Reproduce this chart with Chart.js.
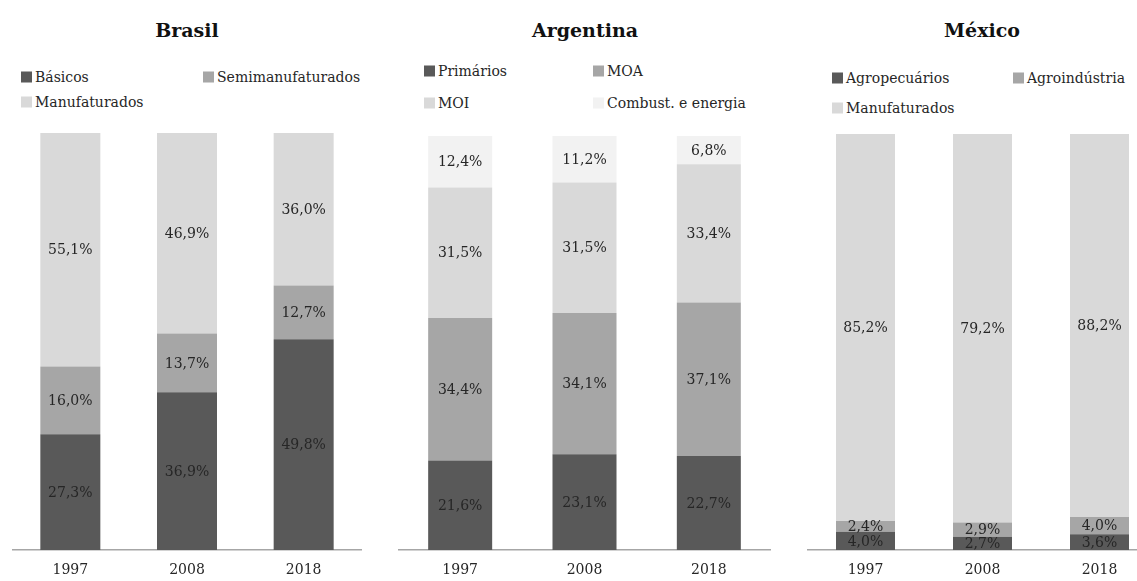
<!DOCTYPE html>
<html>
<head>
<meta charset="utf-8">
<script src="https://cdn.jsdelivr.net/npm/chart.js@4.4.1/dist/chart.umd.min.js"></script>
<style>
  html, body { margin: 0; padding: 0; background: #fff; overflow: hidden; width: 1137px; height: 581px; }
  body { position: relative; font-family: 'DejaVu Serif', 'Liberation Serif', serif; color: #262626; }
  .title { position: absolute; font-weight: bold; font-size: 19px; transform: translate(-50%, -50%); white-space: nowrap; color: #111; }
  .leg { position: absolute; font-size: 14px; white-space: nowrap; transform: translateY(-50%); }
  .leg i { position: absolute; width: 11px; height: 11px; left: -14px; top: 50%; transform: translateY(-50%); }
  canvas { position: absolute; }
</style>
</head>
<body>
<script>
// Composição das exportações, três painéis 100% empilhados

const years = ['1997', '2008', '2018']
const SHADES = ['#595959', '#a6a6a6', '#d9d9d9', '#f2f2f2']

const brLabels = ['Básicos', 'Semimanufaturados', 'Manufaturados']
const brBasicos = [27.3, 36.9, 49.8]
const brSemi = [16.0, 13.7, 12.7]
const brManuf = [55.1, 46.9, 36.0]

const arLabels = ['Primários', 'MOA', 'MOI', 'Combust. e energia']
const arPrim = [21.6, 23.1, 22.7]
const arMOA = [34.4, 34.1, 37.1]
const arMOI = [31.5, 31.5, 33.4]
const arComb = [12.4, 11.2, 6.8]

const mxLabels = ['Agropecuários', 'Agroindústria', 'Manufaturados']
const mxAgro = [4.0, 2.7, 3.6]
const mxAgroind = [2.4, 2.9, 4.0]
const mxManuf = [85.2, 79.2, 88.2]

// label at the middle of each segment, Portuguese decimal comma
const segLabels = {
  id: 'segLabels',
  afterDatasetsDraw(chart) {
    const ctx = chart.ctx
    ctx.save()
    ctx.font = "14px 'DejaVu Serif', serif"
    ctx.fillStyle = '#262626'
    ctx.textAlign = 'center'
    ctx.textBaseline = 'middle'
    chart.data.datasets.forEach((ds, di) => {
      chart.getDatasetMeta(di).data.forEach((bar, i) => {
        const txt = ds.values[i].toFixed(1).replace('.', ',') + '%'
        ctx.fillText(txt, bar.x, (bar.y + bar.base) / 2 + 1)
      })
    })
    ctx.restore()
  }
}

function addText(cls, text, x, y, color) {
  const d = document.createElement('div')
  d.className = cls
  d.style.left = x + 'px'
  d.style.top = y + 'px'
  d.textContent = text
  if (color) {
    const sq = document.createElement('i')
    sq.style.background = color
    d.appendChild(sq)
  }
  document.body.appendChild(d)
}

function panel(p) {
  addText('title', p.title, p.titleX, 30)
  p.labels.forEach((l, k) => {
    const col = k % 2, row = Math.floor(k / 2)
    addText('leg', l, p.legX[col], p.legY[row], SHADES[k])
  })

  const canvas = document.createElement('canvas')
  canvas.width = p.width
  canvas.height = p.height + 33
  canvas.style.left = p.left + 'px'
  canvas.style.top = p.top + 'px'
  document.body.appendChild(canvas)

  const totals = years.map((_, i) => p.series.reduce((s, a) => s + a[i], 0))
  const catW = p.width / years.length

  return new Chart(canvas.getContext('2d'), {
    type: 'bar',
    data: {
      labels: years,
      datasets: p.series.map((vals, k) => ({
        label: p.labels[k],
        values: vals,
        data: vals.map((v, i) => v / totals[i] * 100),
        backgroundColor: SHADES[k],
        borderWidth: 0,
        categoryPercentage: 1,
        barPercentage: p.barW / catW,
      })),
    },
    options: {
      responsive: false,
      animation: false,
      layout: { padding: 0 },
      plugins: { legend: { display: false }, tooltip: { enabled: false } },
      scales: {
        x: {
          stacked: true,
          grid: { display: false, drawTicks: false },
          border: { display: true, color: '#a6a6a6', width: 1.5 },
          ticks: { color: '#262626', padding: 12, font: { family: "'DejaVu Serif', serif", size: 14 } },
          afterFit: s => { s.height = 33 },
        },
        y: { stacked: true, display: false, min: 0, max: 100 },
      },
    },
    plugins: [segLabels],
  })
}

panel({
  title: 'Brasil', titleX: 187,
  labels: brLabels, series: [brBasicos, brSemi, brManuf],
  legX: [35, 217], legY: [77, 102],
  left: 12, top: 133, width: 350, height: 417, barW: 60,
})

panel({
  title: 'Argentina', titleX: 585,
  labels: arLabels, series: [arPrim, arMOA, arMOI, arComb],
  legX: [438, 607], legY: [71, 103],
  left: 398, top: 136, width: 373, height: 414, barW: 64,
})

panel({
  title: 'México', titleX: 982,
  labels: mxLabels, series: [mxAgro, mxAgroind, mxManuf],
  legX: [846, 1027], legY: [78, 108],
  left: 807, top: 134, width: 351, height: 416, barW: 59,
})
</script>
</body>
</html>
